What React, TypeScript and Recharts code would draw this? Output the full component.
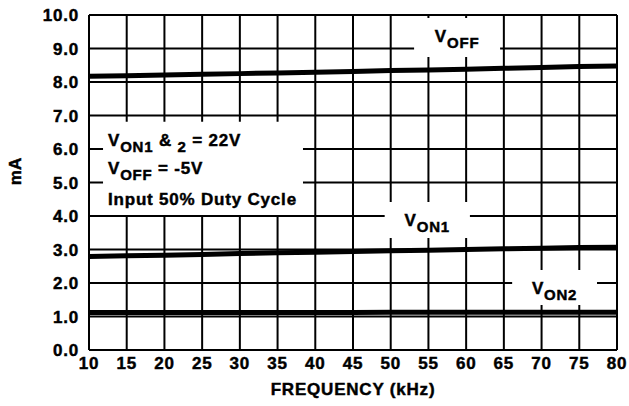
import React from "react";
import {
  LineChart,
  Line,
  XAxis,
  YAxis,
  CartesianGrid,
  ReferenceArea,
} from "recharts";

const freqs = [10, 15, 20, 25, 30, 35, 40, 45, 50, 55, 60, 65, 70, 75, 80];
const vOff = [8.17, 8.19, 8.21, 8.23, 8.25, 8.27, 8.29, 8.31, 8.34, 8.36, 8.38, 8.41, 8.43, 8.46, 8.48];
const vOn1 = [2.79, 2.81, 2.83, 2.85, 2.88, 2.9, 2.92, 2.94, 2.96, 2.98, 3.0, 3.02, 3.04, 3.06, 3.07];
const vOn2 = [1.12, 1.12, 1.12, 1.12, 1.12, 1.12, 1.12, 1.12, 1.13, 1.13, 1.13, 1.13, 1.13, 1.13, 1.13];
const yTicks = [0, 1, 2, 3, 4, 5, 6, 7, 8, 9, 10];

const data = freqs.map((f, i) => ({ f, voff: vOff[i], von1: vOn1[i], von2: vOn2[i] }));

const FONT = "'Liberation Sans', Arial, sans-serif";
const txt = {
  fontFamily: FONT,
  fontWeight: 700,
  fontSize: 17,
  fill: "#000",
  stroke: "#000",
  strokeWidth: 0.45,
  letterSpacing: 0.8,
};
const SUB = 15;

// curve name label, centred in its white box
const NameLabel = ({ viewBox, sub }: any) => {
  const { x, y, width } = viewBox;
  return (
    <text x={x + width / 2} y={y + 24} textAnchor="middle" style={txt}>
      <tspan>V</tspan>
      <tspan dy={6} fontSize={SUB}>{sub}</tspan>
    </text>
  );
};

const NoteLabel = ({ viewBox }: any) => {
  const { x, y } = viewBox;
  const tx = x + 5;
  return (
    <g>
      <text x={tx} y={y + 24} style={txt}>
        <tspan>V</tspan>
        <tspan dy={6} fontSize={SUB}>ON1</tspan>
        <tspan dy={-6}> &amp; </tspan>
        <tspan dy={6} fontSize={SUB}>2</tspan>
        <tspan dy={-6}> = 22V</tspan>
      </text>
      <text x={tx} y={y + 52} style={txt}>
        <tspan>V</tspan>
        <tspan dy={6} fontSize={SUB}>OFF</tspan>
        <tspan dy={-6}> = -5V</tspan>
      </text>
      <text x={tx} y={y + 83} style={txt}>
        Input 50% Duty Cycle
      </text>
    </g>
  );
};

const YTitle = ({ viewBox }: any) => {
  const cx = 15;
  const cy = viewBox.y + viewBox.height / 2 - 11;
  return (
    <text
      x={cx}
      y={cy}
      transform={`rotate(-90 ${cx} ${cy})`}
      textAnchor="middle"
      dominantBaseline="central"
      style={{ ...txt, letterSpacing: 0 }}
    >
      mA
    </text>
  );
};

export default function App() {
  return (
    <div style={{ position: "absolute", left: 0, top: 0, width: 629, height: 406, background: "#fff" }}>
      <LineChart width={629} height={406} data={data} margin={{ top: 15, right: 12, bottom: 0, left: 0 }}>
        <CartesianGrid stroke="#000" strokeWidth={2} />
        <XAxis
          dataKey="f"
          type="number"
          domain={[10, 80]}
          ticks={freqs}
          height={56}
          tickSize={0}
          tickMargin={7}
          axisLine={{ stroke: "#000", strokeWidth: 2 }}
          tick={txt}
          label={{ value: "FREQUENCY (kHz)", position: "insideBottom", offset: 11, style: txt }}
        />
        <YAxis
          type="number"
          domain={[0, 10]}
          ticks={yTicks}
          width={89}
          tickSize={0}
          tickMargin={10}
          axisLine={{ stroke: "#000", strokeWidth: 2 }}
          tick={txt}
          tickFormatter={(v: number) => v.toFixed(1)}
          label={<YTitle />}
        />
        <ReferenceArea x1={11.86} x2={38.37} y1={4.03} y2={6.81} fill="#fff" fillOpacity={1} stroke="none" label={<NoteLabel />} />
        <ReferenceArea x1={53.1} x2={64.5} y1={8.75} y2={9.91} fill="#fff" fillOpacity={1} stroke="none" label={<NameLabel sub="OFF" />} />
        <ReferenceArea x1={49.2} x2={60.5} y1={3.34} y2={4.42} fill="#fff" fillOpacity={1} stroke="none" label={<NameLabel sub="ON1" />} />
        <ReferenceArea x1={66.1} x2={77.35} y1={1.34} y2={2.39} fill="#fff" fillOpacity={1} stroke="none" label={<NameLabel sub="ON2" />} />
        <Line type="linear" dataKey="voff" stroke="#000" strokeWidth={5} dot={false} isAnimationActive={false} />
        <Line type="linear" dataKey="von1" stroke="#000" strokeWidth={5} dot={false} isAnimationActive={false} />
        <Line type="linear" dataKey="von2" stroke="#000" strokeWidth={5} dot={false} isAnimationActive={false} />
      </LineChart>
    </div>
  );
}
